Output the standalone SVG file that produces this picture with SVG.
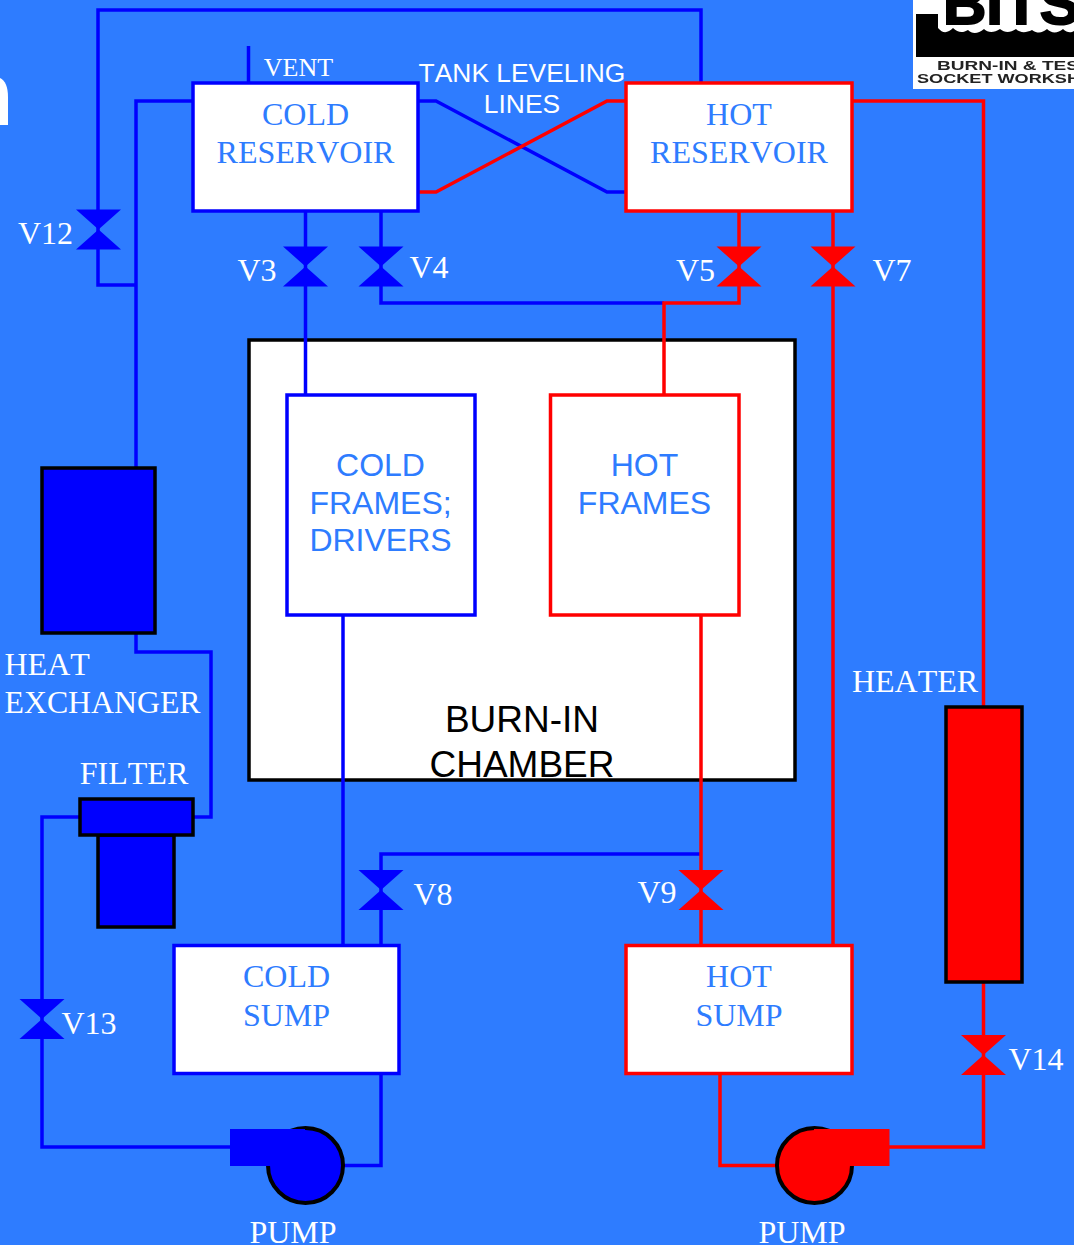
<svg xmlns="http://www.w3.org/2000/svg" width="1074" height="1245" viewBox="0 0 1074 1245">
<style>
.p{fill:none;stroke-width:3.500;stroke-linejoin:miter}
.b{stroke:#0000ff}
.r{stroke:#ff0000}
.box{fill:#fff;stroke-width:3.500}
.eq{stroke:#000;stroke-width:3.500}
.pm{stroke:#000;stroke-width:4}
text{font-kerning:none}
.ser{font-family:"Liberation Serif","Times New Roman",serif;font-size:32px;text-anchor:middle}
.san{font-family:"Liberation Sans",Arial,sans-serif;font-size:32px;text-anchor:middle}
.w{fill:#fff}
.c{fill:#2e7cff}
.vb{fill:#0000ff}
.vr{fill:#ff0000}
.lg{font-family:"Liberation Sans",Arial,sans-serif;font-weight:bold}
</style>
<defs>
<path id="valve" d="M-22.500,-20H22.500L-22.500,20H22.500Z"/>
<filter id="soft" x="0" y="0" width="1" height="1"><feGaussianBlur stdDeviation="0.700"/></filter>
</defs>
<rect width="1074" height="1245" fill="#2e7cff"/>
<path d="M0,125V78C5,80 8,87 8,97V125Z" fill="#fff"/>
<g id="logo">
<rect x="913" y="0" width="161" height="89" fill="#fff"/>
<g filter="url(#soft)">
<path d="M916,57V14H938V28C943,34 948,33 953,28C958,33 963,33 968,30C972,34 978,34 984,29C988,33 994,33 1000,29C1005,33 1010,33 1016,29C1020,33 1026,33 1032,30C1038,34 1042,33 1047,29C1052,34 1058,33 1063,29C1067,33 1071,33 1074,31V57Z" fill="#000"/>
<text class="lg" x="943" y="24" style="font-size:60px" fill="#000" stroke="#000" stroke-width="2">BITS</text>
<text class="lg" x="937" y="69.500" style="font-size:12.500px" fill="#222" textLength="142" lengthAdjust="spacingAndGlyphs">BURN-IN &amp; TES</text>
<text class="lg" x="917" y="83" style="font-size:13px" fill="#222" textLength="163" lengthAdjust="spacingAndGlyphs">SOCKET WORKSH</text>
</g>
</g>
<g id="burn-in-chamber">
<rect x="249" y="340" width="546" height="440" class="box" stroke="#000"/>
<text class="san" x="522" y="732" style="font-size:37px">BURN-IN</text>
<text class="san" x="522" y="777" style="font-size:37px">CHAMBER</text>
</g>
<g id="connectors">
<path class="p b" d="M98,229V10H701V83"/>
<path class="p b" d="M193,101H136V468"/>
<path class="p b" d="M98,229V285H136"/>
<path class="p b" d="M248.500,46V83"/>
<path class="p b" d="M418,101H436L607,192H626"/>
<path class="p r" d="M418,192H436L607,101H626"/>
<path class="p b" d="M305.500,211V395"/>
<path class="p b" d="M381,211V303H664"/>
<path class="p r" d="M739,211V303H664V395"/>
<path class="p r" d="M833,211V945"/>
<path class="p r" d="M852,101H983.500V707"/>
<path class="p r" d="M983.500,982V1147H889"/>
<path class="p b" d="M136,633V652H211V817H193"/>
<path class="p b" d="M80,817H42V1147H230"/>
<path class="p b" d="M343,615V945"/>
<path class="p b" d="M381,945V854H701"/>
<path class="p r" d="M701,615V945"/>
<path class="p b" d="M344,1165.500H381V1073"/>
<path class="p r" d="M720,1073V1165.500H776"/>
</g>
<g id="cold-reservoir">
<rect x="193" y="83" width="225" height="128" class="box b"/>
<text class="ser c" x="305.500" y="125">COLD</text>
<text class="ser c" x="305.500" y="163">RESERVOIR</text>
</g>
<g id="hot-reservoir">
<rect x="626" y="83" width="226" height="128" class="box r"/>
<text class="ser c" x="739" y="125">HOT</text>
<text class="ser c" x="739" y="163">RESERVOIR</text>
</g>
<g id="cold-frames">
<rect x="287" y="395" width="188" height="220" class="box b"/>
<text class="san c" x="380.500" y="475.500">COLD</text>
<text class="san c" x="380.500" y="513.500">FRAMES;</text>
<text class="san c" x="380.500" y="551">DRIVERS</text>
</g>
<g id="hot-frames">
<rect x="550.500" y="395" width="188.500" height="220" class="box r"/>
<text class="san c" x="644.500" y="475.500">HOT</text>
<text class="san c" x="644.500" y="513.500">FRAMES</text>
</g>
<g id="cold-sump">
<rect x="174" y="945.500" width="225" height="128" class="box b"/>
<text class="ser c" x="286.500" y="987">COLD</text>
<text class="ser c" x="286.500" y="1026">SUMP</text>
</g>
<g id="hot-sump">
<rect x="626" y="945.500" width="226" height="128" class="box r"/>
<text class="ser c" x="739" y="987">HOT</text>
<text class="ser c" x="739" y="1026">SUMP</text>
</g>
<g id="heat-exchanger">
<rect x="42" y="468" width="113" height="165" class="eq vb"/>
<text class="ser w" x="4.500" y="674.500" style="text-anchor:start">HEAT</text>
<text class="ser w" x="4.500" y="712.500" style="text-anchor:start;font-size:31.800px">EXCHANGER</text>
</g>
<g id="filter">
<rect x="98" y="835" width="76" height="92" class="eq vb"/>
<rect x="80" y="799" width="113" height="36" class="eq vb"/>
<text class="ser w" x="134" y="784">FILTER</text>
</g>
<g id="heater">
<rect x="946" y="707" width="76" height="275" class="eq vr"/>
<text class="ser w" x="915" y="692">HEATER</text>
</g>
<g id="cold-pump">
<circle cx="305.500" cy="1165.500" r="37.500" class="pm vb"/>
<rect x="230" y="1129" width="75" height="37" class="vb"/>
<text class="ser w" x="293" y="1243">PUMP</text>
</g>
<g id="hot-pump">
<circle cx="814.500" cy="1165.500" r="37.500" class="pm vr"/>
<rect x="814" y="1129" width="75.500" height="37" class="vr"/>
<text class="ser w" x="802" y="1243">PUMP</text>
</g>
<g id="v12"><use href="#valve" x="98.500" y="229.500" class="vb"/><text class="ser w" x="45.500" y="244">V12</text></g>
<g id="v3"><use href="#valve" x="305.500" y="266.500" class="vb"/><text class="ser w" x="257" y="281">V3</text></g>
<g id="v4"><use href="#valve" x="381" y="266.500" class="vb"/><text class="ser w" x="429" y="278">V4</text></g>
<g id="v5"><use href="#valve" x="739" y="266.500" class="vr"/><text class="ser w" x="695.500" y="281">V5</text></g>
<g id="v7"><use href="#valve" x="833" y="266.500" class="vr"/><text class="ser w" x="892" y="281">V7</text></g>
<g id="v8"><use href="#valve" x="381" y="890" class="vb"/><text class="ser w" x="433" y="905">V8</text></g>
<g id="v9"><use href="#valve" x="701" y="890" class="vr"/><text class="ser w" x="657" y="903">V9</text></g>
<g id="v13"><use href="#valve" x="42" y="1019" class="vb"/><text class="ser w" x="89" y="1034">V13</text></g>
<g id="v14"><use href="#valve" x="983.500" y="1055" class="vr"/><text class="ser w" x="1036" y="1070">V14</text></g>
<text class="ser w" x="298.500" y="76" style="font-size:26px">VENT</text>
<text class="san w" x="522" y="82" style="font-size:26.400px">TANK LEVELING</text>
<text class="san w" x="522" y="113" style="font-size:26.400px">LINES</text>
</svg>
